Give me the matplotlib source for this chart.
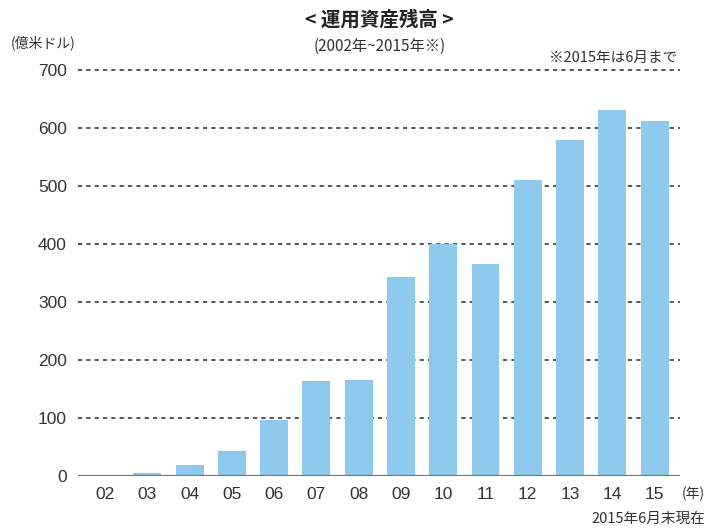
import matplotlib.pyplot as plt

plt.rcParams['font.family'] = ['Noto Sans CJK JP', 'DejaVu Sans']

# 運用資産残高（億米ドル）
years = ['02', '03', '04', '05', '06', '07', '08', '09', '10', '11', '12', '13', '14', '15']
values = [1, 5, 19, 43, 97, 164, 166, 343, 400, 366, 510, 579, 631, 612]
yticks = [0, 100, 200, 300, 400, 500, 600, 700]

fig = plt.figure(figsize=(7.09, 5.30), dpi=100)
ax = fig.add_axes([0.11, 0.102, 0.849, 0.766])

x = list(range(len(years)))
ax.bar(x, values, width=0.66, color='#8ec9ee', zorder=2)

# 点線の目盛線
for v in yticks[1:]:
    ax.axhline(v, color='#3a3a3a', linestyle=(0, (2.5, 2.5)), linewidth=1.2, zorder=1, clip_on=False)
ax.axhline(0, color='#777777', linewidth=1.6, zorder=3)

ax.set_xlim(-0.64, 13.6)
ax.set_ylim(0, 700)
ax.set_yticks(yticks)
ax.set_xticks(x)
ax.set_xticklabels(years)
ax.tick_params(length=0, labelsize=12.5, colors='#333333')
ax.tick_params(axis='y', pad=8)
ax.tick_params(axis='x', pad=8)
for lab in ax.get_xticklabels() + ax.get_yticklabels():
    lab.set_family(['Liberation Sans', 'DejaVu Sans'])
for s in ax.spines.values():
    s.set_visible(False)

fig.text(0.535, 0.962, '< 運用資産残高 >', ha='center', va='center', fontsize=14, fontweight='bold', color='#222222')
fig.text(0.535, 0.913, '(2002年~2015年※)', ha='center', va='center', fontsize=11, color='#333333')
fig.text(0.015, 0.92, '(億米ドル)', ha='left', va='center', fontsize=10, color='#333333')
fig.text(0.955, 0.89, '※2015年は6月まで', ha='right', va='center', fontsize=10.5, color='#333333')
fig.text(0.962, 0.068, '(年)', ha='left', va='center', fontsize=10, color='#333333')
fig.text(0.995, 0.022, '2015年6月末現在', ha='right', va='center', fontsize=10.5, color='#333333')

fig.savefig('out.png', dpi=100)
